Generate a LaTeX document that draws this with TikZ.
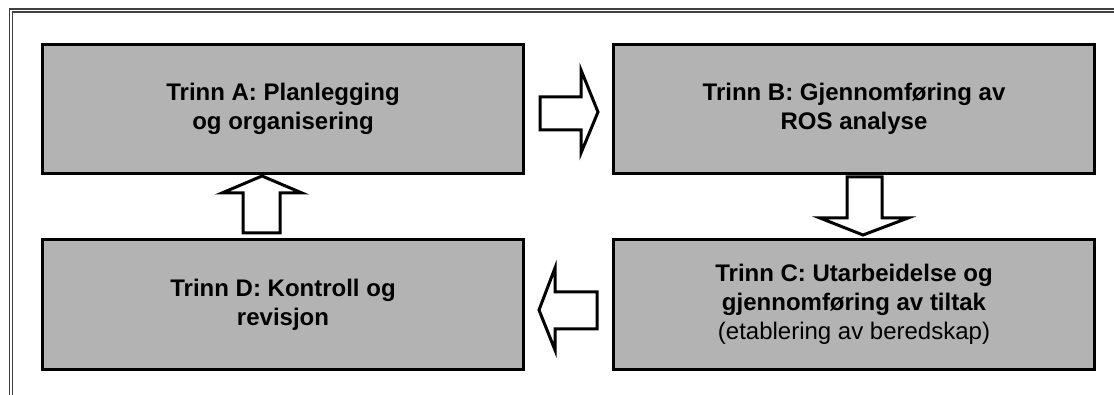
\documentclass[tikz,border=0pt]{standalone}
\usepackage{fontspec}
\setmainfont{Liberation Sans}
\begin{document}
\begin{tikzpicture}[x=1pt,y=-1pt,
  stage/.style={draw=black, line width=3pt, fill=boxgray, minimum width=481pt, minimum height=129pt,
    align=center, inner sep=0pt, font=\fontsize{24}{29}\selectfont\bfseries},
  blockarrow/.style={draw=black, line width=3pt, fill=white, line join=miter},
  frameline/.style={draw=black!75, line width=1.2pt}]
\definecolor{boxgray}{HTML}{B3B3B3}
\useasboundingbox (0,0) rectangle (1114,395);
\fill[white] (0,0) rectangle (1114,395);
% page frame (top and left only)
\draw[frameline] (1114,9) -- (9.5,9) -- (9.5,395);
\draw[frameline] (1114,12) -- (12.5,12) -- (12.5,395);
% stages
\node[stage] (A) at (283,109) {Trinn A: Planlegging\\og organisering};
\node[stage] (B) at (854,109) {Trinn B: Gjennomføring av\\ROS analyse};
\node[stage] (C) at (854,304.5) {Trinn C: Utarbeidelse og\\gjennomføring av tiltak\\{\normalfont\fontsize{24}{29}\selectfont(etablering av beredskap)}};
\node[stage] (D) at (283,304.5) {Trinn D: Kontroll og\\revisjon};
% block arrows
\draw[blockarrow] (540,97) -- (581,97) -- (581,70) -- (598,112) -- (581,153) -- (581,130) -- (540,130) -- cycle;
\draw[blockarrow] (847,177) -- (882,177) -- (882,218) -- (908,218) -- (863,235) -- (820,218) -- (847,218) -- cycle;
\draw[blockarrow] (597,292) -- (555,292) -- (555,268) -- (539,310) -- (555,350) -- (555,329) -- (597,329) -- cycle;
\draw[blockarrow] (243,233) -- (243,193) -- (222,193) -- (262,176) -- (302,193) -- (280,193) -- (280,233) -- cycle;
\end{tikzpicture}
\end{document}
